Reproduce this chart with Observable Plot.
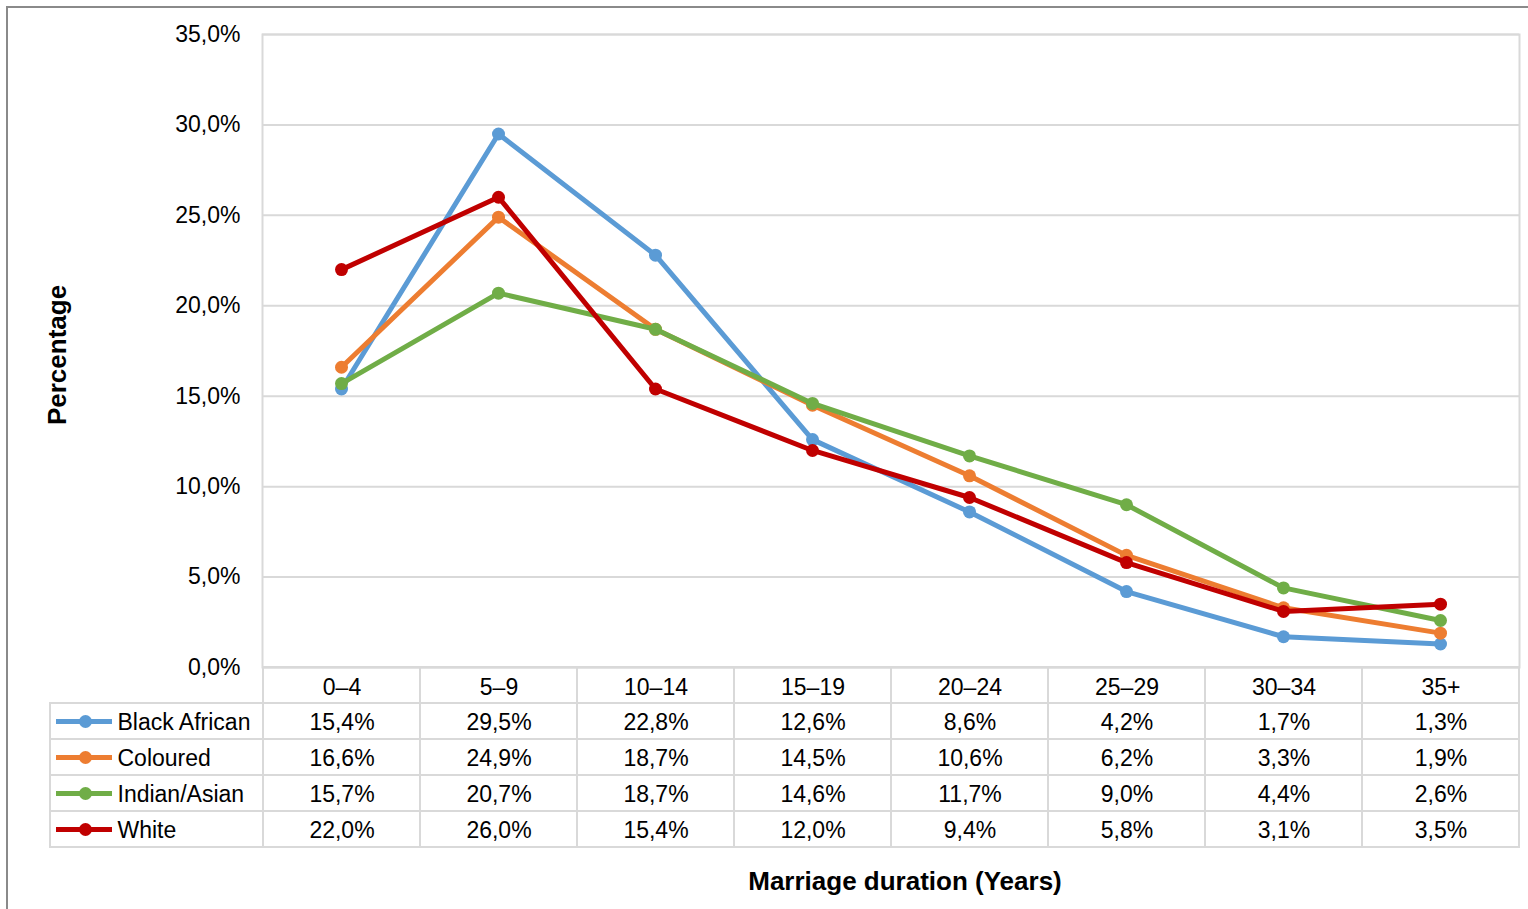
<!DOCTYPE html>
<html>
<head>
<meta charset="utf-8">
<script src="https://cdn.jsdelivr.net/npm/d3@7"></script>
<script src="https://cdn.jsdelivr.net/npm/@observablehq/plot@0.6"></script>
<style>
  html, body { margin: 0; padding: 0; background: #fff; }
  #wrap { position: relative; width: 1528px; height: 909px; overflow: hidden; font-family: "Liberation Sans", Arial, sans-serif; }
  #border { position: absolute; left: 6px; top: 6px; width: 1600px; height: 1000px; border: 2px solid #8a8a8a; box-sizing: border-box; }
  #main, #table { position: absolute; left: 0; }
  #main { top: 0; }
  #table { top: 667px; }
  #xtitle { position: absolute; top: 866px; left: 905px; transform: translateX(-50%); font-weight: bold; font-size: 26px; white-space: nowrap; color: #000; }
</style>
</head>
<body>
<div id="wrap">
  <div id="border"></div>
  <div id="main"></div>
  <div id="table"></div>
  <div id="xtitle">Marriage duration (Years)</div>
</div>
<script>
const categories = ["0–4", "5–9", "10–14", "15–19", "20–24", "25–29", "30–34", "35+"];
const seriesNames = ["Black African", "Coloured", "Indian/Asian", "White"];
const seriesColors = ["#5B9BD5", "#ED7D31", "#70AD47", "#C00000"];
const blackAfrican = [15.4, 29.5, 22.8, 12.6, 8.6, 4.2, 1.7, 1.3];
const coloured     = [16.6, 24.9, 18.7, 14.5, 10.6, 6.2, 3.3, 1.9];
const indianAsian  = [15.7, 20.7, 18.7, 14.6, 11.7, 9.0, 4.4, 2.6];
const white        = [22.0, 26.0, 15.4, 12.0, 9.4, 5.8, 3.1, 3.5];
const yTicks = [0, 5, 10, 15, 20, 25, 30, 35];

const seriesValues = [blackAfrican, coloured, indianAsian, white];
const colorOf = s => seriesColors[seriesNames.indexOf(s)];
const rows = seriesNames.flatMap((s, si) =>
  categories.map((c, ci) => ({series: s, cat: c, value: seriesValues[si][ci]})));
const fmt = v => v.toFixed(1).replace(".", ",") + "%";

const font = {fontFamily: "'Liberation Sans', Arial, sans-serif", fontSize: "23px", color: "#000", background: "transparent", overflow: "visible"};

const main = Plot.plot({
  width: 1528, height: 680,
  marginTop: 34, marginBottom: 13, marginLeft: 262, marginRight: 9,
  style: font,
  x: {type: "point", domain: categories, padding: 0.5, axis: null},
  y: {domain: [0, 35], axis: null},
  marks: [
    Plot.gridY(yTicks, {stroke: "#d9d9d9", strokeOpacity: 1, strokeWidth: 2}),
    Plot.frame({stroke: "#d9d9d9", strokeWidth: 2}),
    Plot.axisY({ticks: yTicks, tickFormat: fmt, tickSize: 0, tickPadding: 22, fontSize: 23, label: null}),
    Plot.text(["Percentage"], {frameAnchor: "left", textAnchor: "middle", dx: -205, dy: 4, rotate: -90, fontWeight: "bold", fontSize: 26}),
    ...seriesNames.flatMap(s => [
      Plot.line(rows.filter(d => d.series === s), {x: "cat", y: "value", stroke: colorOf(s), strokeWidth: 5, strokeLinejoin: "round"}),
      Plot.dot(rows.filter(d => d.series === s), {x: "cat", y: "value", fill: colorOf(s), r: 6.5})
    ])
  ]
});
document.getElementById("main").appendChild(main);

const rowKeys = ["__hdr", ...seriesNames];
const cellsData = rowKeys.flatMap(r => categories.map(c => ({r, c})));
const table = Plot.plot({
  width: 1528, height: 182,
  marginTop: 0, marginBottom: 2, marginLeft: 50, marginRight: 9,
  style: font,
  x: {type: "band", domain: categories, range: [262, 1519], padding: 0, axis: null},
  y: {type: "band", domain: rowKeys, padding: 0, axis: null},
  marks: [
    Plot.rect(seriesNames, {y: d => d, fill: "none", stroke: "#d9d9d9", strokeWidth: 2}),
    Plot.cell(cellsData, {x: "c", y: "r", fill: "none", stroke: "#d9d9d9", strokeWidth: 2}),
    Plot.text(categories, {x: d => d, y: () => "__hdr", dy: 2, fontSize: 23}),
    Plot.text(rows, {x: "cat", y: "series", text: d => fmt(d.value), dy: 1, fontSize: 23}),
    ...seriesNames.flatMap(s => [
      Plot.ruleY([s], {y: d => d, stroke: colorOf(s), strokeWidth: 5, insetLeft: 6, insetRight: 1519 - 112}),
      Plot.dot([s], {y: d => d, fill: colorOf(s), r: 6.5, frameAnchor: "left", dx: 35})
    ]),
    Plot.text(seriesNames, {y: d => d, frameAnchor: "left", dx: 67, textAnchor: "start", dy: 1, fontSize: 23})
  ]
});
document.getElementById("table").appendChild(table);
</script>
</body>
</html>
